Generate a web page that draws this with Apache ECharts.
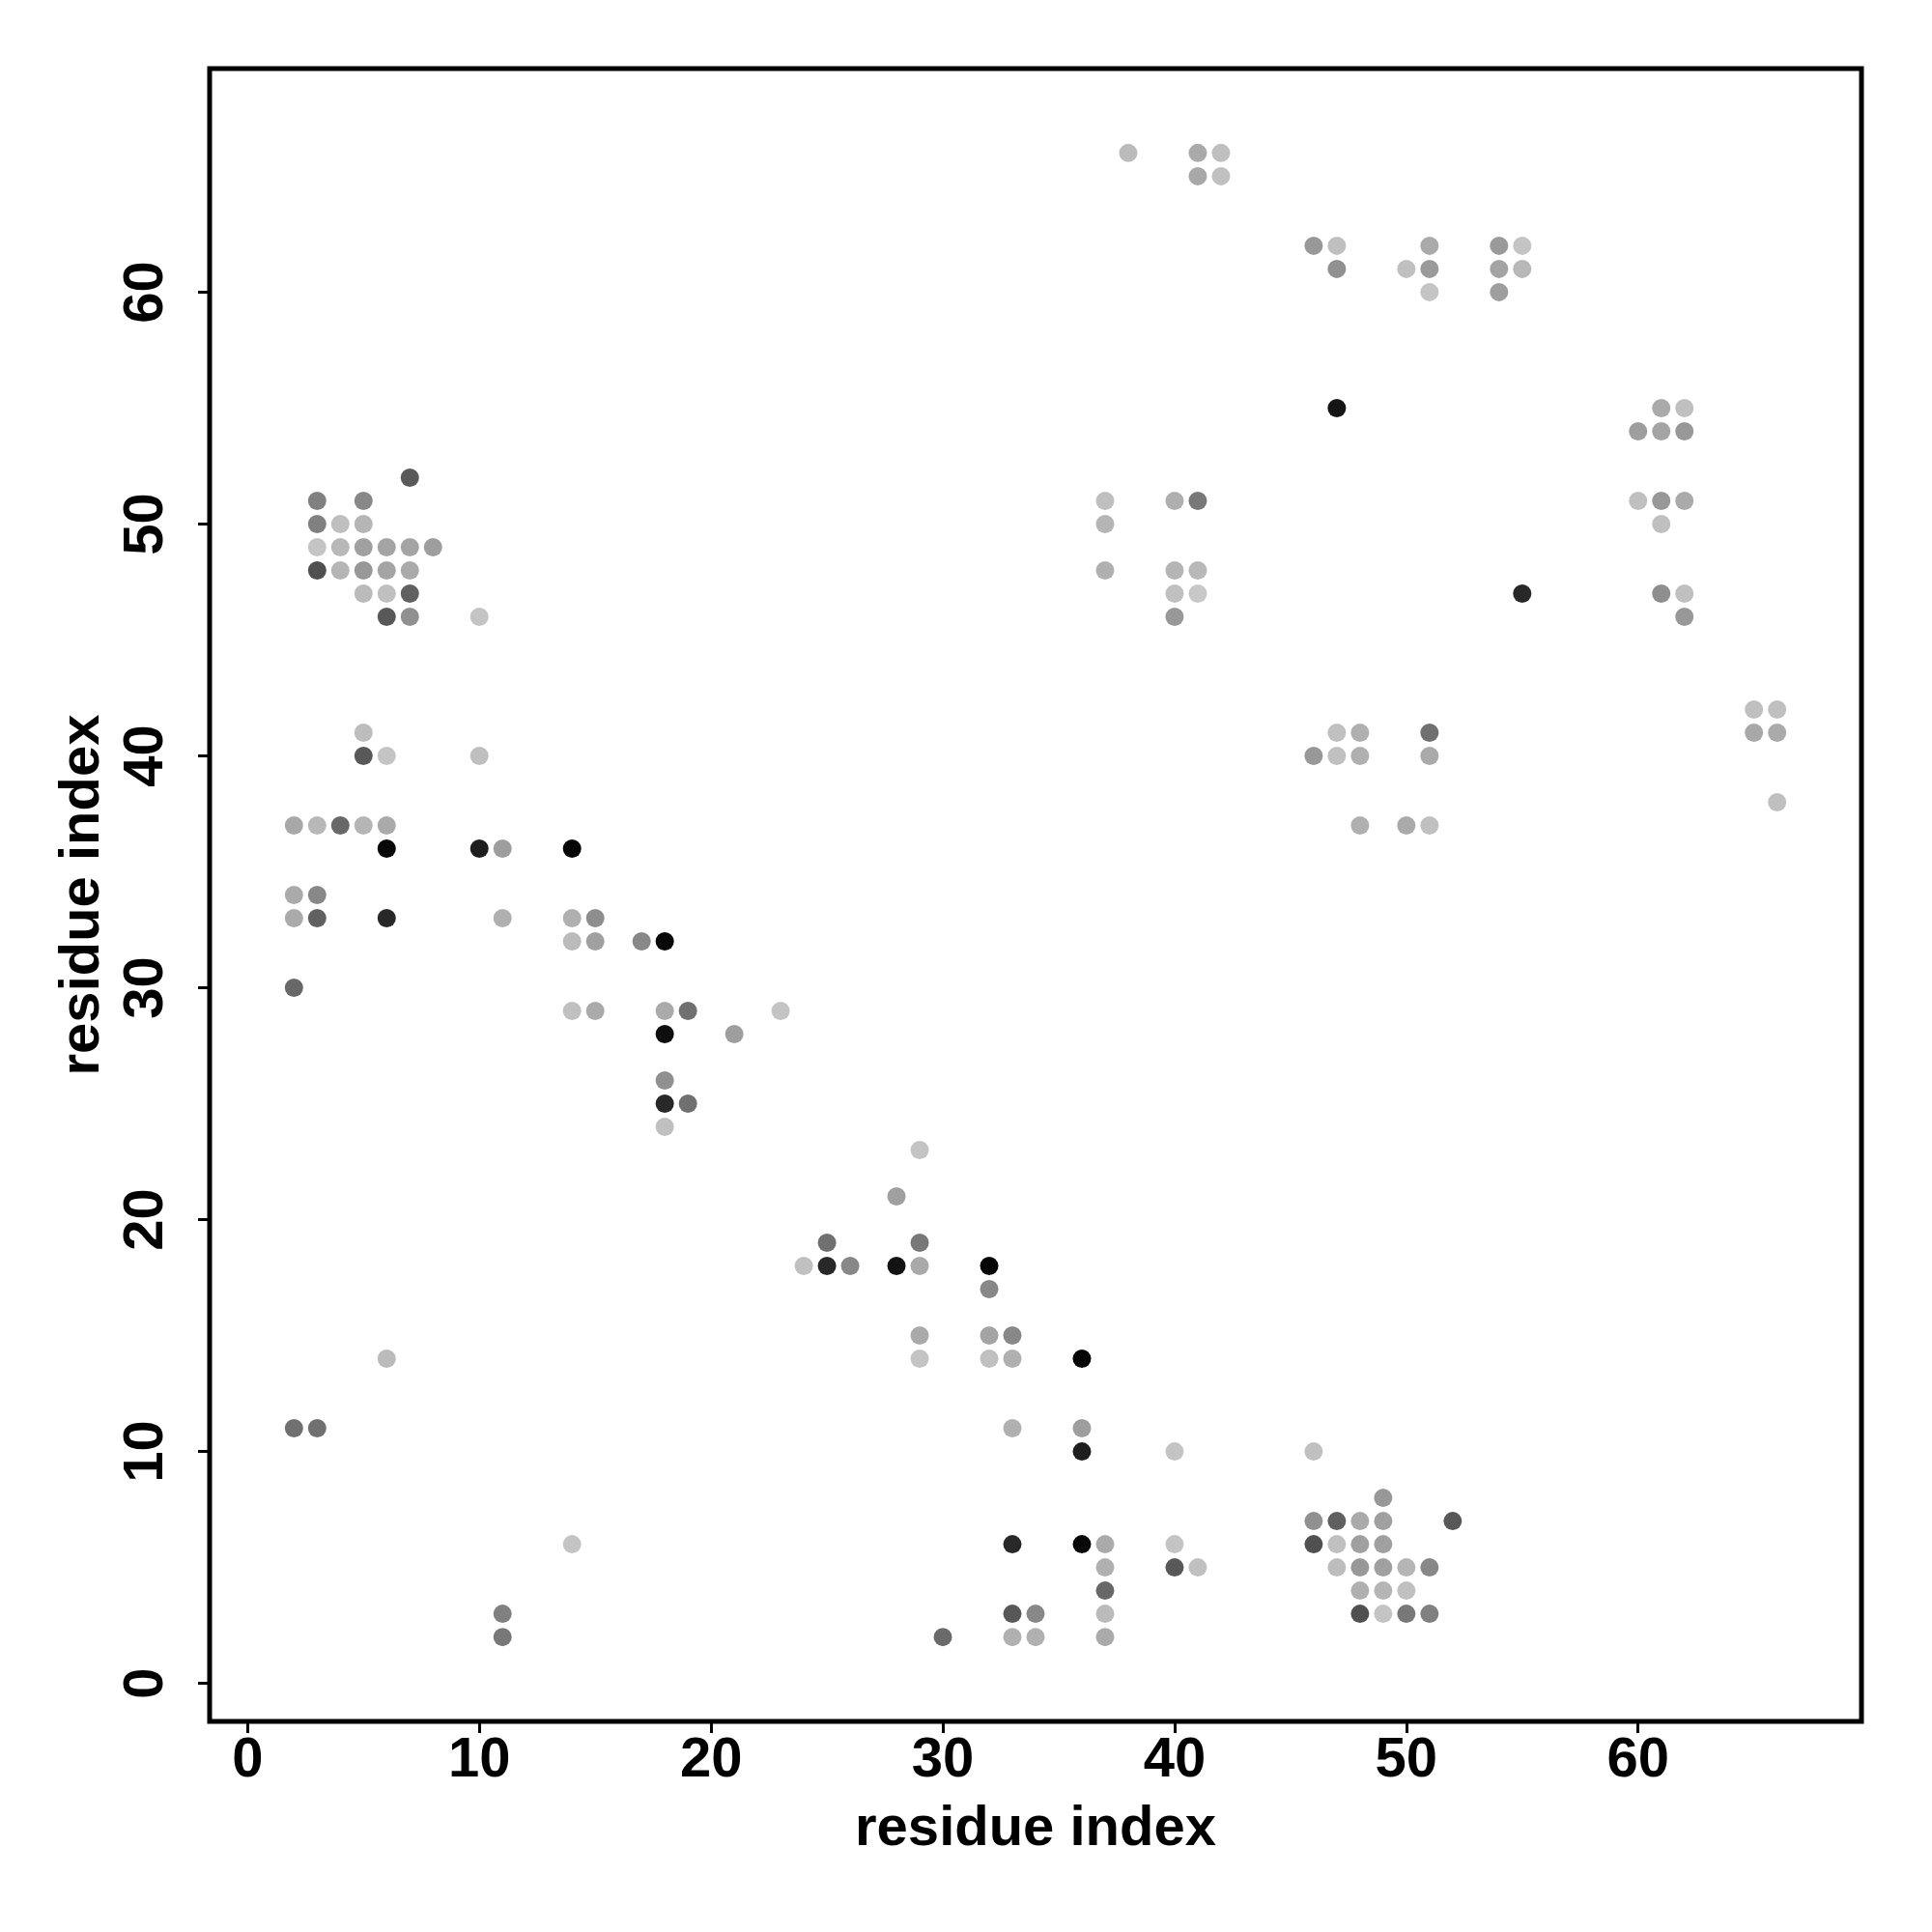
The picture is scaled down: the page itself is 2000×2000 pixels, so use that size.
<!DOCTYPE html>
<html>
<head>
<meta charset="utf-8">
<script src="https://cdn.jsdelivr.net/npm/echarts@6/dist/echarts.min.js"></script>
<style>
  html, body { margin: 0; padding: 0; background: #ffffff; }
  #chart { width: 2000px; height: 2000px; }
</style>
</head>
<body>
<div id="chart"></div>
<script>
// residue i (x), residue j (y), grey shade (0 = black, 255 = white)
const resI = [
  7,
  3, 5,
  3, 4, 5,
  3, 4, 5, 6, 7, 8,
  3, 4, 5, 6, 7,
  5, 6, 7,
  6, 7, 10,
  5,
  5, 6, 10,
  2, 3, 4, 5, 6,
  6, 10, 11, 14,
  2, 3,
  2, 3, 6, 11, 14, 15,
  14, 15, 17, 18,
  2,
  14, 15, 18, 19, 23,
  18, 21,
  18,
  18, 19,
  18,
  29,
  28,
  25, 29,
  24, 25, 26, 28, 29, 32,
  32,
  29, 32, 33,
  6, 29, 32, 33, 36,
  2, 3, 33, 36,
  36, 40, 46,
  49,
  46, 47, 48, 49, 52,
  14, 33, 36, 37, 40, 46, 47, 48, 49,
  37, 40, 41, 47, 48, 49, 50, 51,
  37, 48, 49, 50,
  11, 33, 34, 37, 48, 49, 50, 51,
  11, 30, 33, 34, 37,
  38, 41, 42,
  41, 42,
  46, 47, 51, 54, 55,
  47, 50, 51, 54, 55,
  51, 54,
  47, 61, 62,
  60, 61, 62,
  37, 40, 41, 60, 61, 62,
  37, 61,
  37, 40, 41,
  40, 41, 55, 61, 62,
  40, 62,
  65, 66,
  47, 48, 51, 65, 66,
  46, 47, 48, 51,
  66,
  48, 50, 51
];
const resJ = [
  52,
  51, 51,
  50, 50, 50,
  49, 49, 49, 49, 49, 49,
  48, 48, 48, 48, 48,
  47, 47, 47,
  46, 46, 46,
  41,
  40, 40, 40,
  37, 37, 37, 37, 37,
  36, 36, 36, 36,
  34, 34,
  33, 33, 33, 33, 33, 33,
  32, 32, 32, 32,
  30,
  29, 29, 29, 29, 29,
  28, 28,
  26,
  25, 25,
  24,
  23,
  21,
  19, 19,
  18, 18, 18, 18, 18, 18,
  17,
  15, 15, 15,
  14, 14, 14, 14, 14,
  11, 11, 11, 11,
  10, 10, 10,
  8,
  7, 7, 7, 7, 7,
  6, 6, 6, 6, 6, 6, 6, 6, 6,
  5, 5, 5, 5, 5, 5, 5, 5,
  4, 4, 4, 4,
  3, 3, 3, 3, 3, 3, 3, 3,
  2, 2, 2, 2, 2,
  66, 66, 66,
  65, 65,
  62, 62, 62, 62, 62,
  61, 61, 61, 61, 61,
  60, 60,
  55, 55, 55,
  54, 54, 54,
  51, 51, 51, 51, 51, 51,
  50, 50,
  48, 48, 48,
  47, 47, 47, 47, 47,
  46, 46,
  42, 42,
  41, 41, 41, 41, 41,
  40, 40, 40, 40,
  38,
  37, 37, 37
];
const shade = [
  0x5a,
  0x80, 0x88,
  0x80, 0xbf, 0xb5,
  0xc4, 0xb8, 0xa0, 0xa4, 0xa4, 0x9e,
  0x50, 0xb5, 0x98, 0xa4, 0xaa,
  0xbb, 0xc0, 0x60,
  0x58, 0x90, 0xc4,
  0xbd,
  0x58, 0xc4, 0xbf,
  0xa8, 0xb8, 0x68, 0xb5, 0xaa,
  0x08, 0x1e, 0x9e, 0x05,
  0xaa, 0x88,
  0xaa, 0x60, 0x28, 0xb0, 0xb0, 0x8e,
  0xbb, 0xa0, 0x88, 0x08,
  0x68,
  0xc0, 0xaa, 0xaa, 0x70, 0xc4,
  0x0e, 0x9e,
  0x90,
  0x28, 0x70,
  0xc0,
  0xc4,
  0xa0,
  0x70, 0x78,
  0xc0, 0x28, 0x88, 0x12, 0xaa, 0x05,
  0x88,
  0xaa, 0xa4, 0x88,
  0xbb, 0xc4, 0xc0, 0xb0, 0x05,
  0x70, 0x70, 0xb0, 0x9e,
  0x1e, 0xc4, 0xc0,
  0x98,
  0x90, 0x60, 0xaa, 0xa0, 0x58,
  0xc4, 0x28, 0x08, 0xaa, 0xc4, 0x50, 0xc0, 0xa0, 0xa0,
  0xb0, 0x58, 0xc0, 0xbd, 0x98, 0xa0, 0xb5, 0x88,
  0x68, 0xb0, 0xb5, 0xc0,
  0x80, 0x58, 0x88, 0xbb, 0x50, 0xc4, 0x78, 0x80,
  0x78, 0x6a, 0xb0, 0xb0, 0xaa,
  0xbb, 0xaa, 0xbf,
  0xa8, 0xc0,
  0x98, 0xbf, 0xaa, 0x9a, 0xc4,
  0x90, 0xc0, 0x9a, 0xa4, 0xb8,
  0xc4, 0x9e,
  0x15, 0xaa, 0xc0,
  0x9e, 0xa4, 0x98,
  0xbf, 0xaf, 0x78, 0xc0, 0x98, 0xaa,
  0xb5, 0xc0,
  0xb0, 0xb5, 0xb8,
  0xc0, 0xc8, 0x28, 0x8e, 0xc0,
  0x98, 0x98,
  0xc0, 0xc0,
  0xc0, 0xb0, 0x70, 0xa8, 0xaa,
  0x98, 0xc0, 0xb0, 0xaa,
  0xc0,
  0xb0, 0xaa, 0xc0
];
const xTicks = [0, 10, 20, 30, 40, 50, 60];
const yTicks = [0, 10, 20, 30, 40, 50, 60];
const axisTitleX = 'residue index';
const axisTitleY = 'residue index';

const points = resI.map((x, k) => [x, resJ[k], shade[k]]);
const grey = g => 'rgb(' + g + ',' + g + ',' + g + ')';

const chart = echarts.init(document.getElementById('chart'), null, { renderer: 'canvas' });
const FONT = 'Liberation Sans';
chart.setOption({
  backgroundColor: '#ffffff',
  animation: false,
  grid: {
    left: 217, right: 73, top: 71, bottom: 218,
    show: true, borderColor: '#000000', borderWidth: 5, backgroundColor: 'transparent'
  },
  xAxis: {
    type: 'value', min: -1.64, max: 69.64, interval: 10,
    name: axisTitleX, nameLocation: 'middle', nameGap: 83,
    nameTextStyle: { fontFamily: FONT, fontWeight: 'bold', fontSize: 58, color: '#000' },
    axisLine: { show: false, onZero: false },
    axisTick: { show: true, length: 12, lineStyle: { color: '#000', width: 3 },
      customValues: xTicks },
    axisLabel: { show: true, fontFamily: FONT, fontWeight: 'bold', fontSize: 58, color: '#000',
      margin: 12, customValues: xTicks },
    splitLine: { show: false }
  },
  yAxis: {
    type: 'value', min: -1.64, max: 69.64, interval: 10,
    name: axisTitleY, nameLocation: 'middle', nameGap: 100,
    nameTextStyle: { fontFamily: FONT, fontWeight: 'bold', fontSize: 58, color: '#000' },
    axisLine: { show: false, onZero: false },
    axisTick: { show: true, length: 12, lineStyle: { color: '#000', width: 3 },
      customValues: yTicks },
    axisLabel: { show: true, fontFamily: FONT, fontWeight: 'bold', fontSize: 58, color: '#000',
      margin: 36, rotate: 90, customValues: yTicks },
    splitLine: { show: false }
  },
  series: [{
    type: 'scatter',
    data: points,
    symbol: 'circle',
    symbolSize: 19,
    itemStyle: { color: p => grey(p.data[2]), opacity: 1 }
  }]
});
</script>
</body>
</html>
